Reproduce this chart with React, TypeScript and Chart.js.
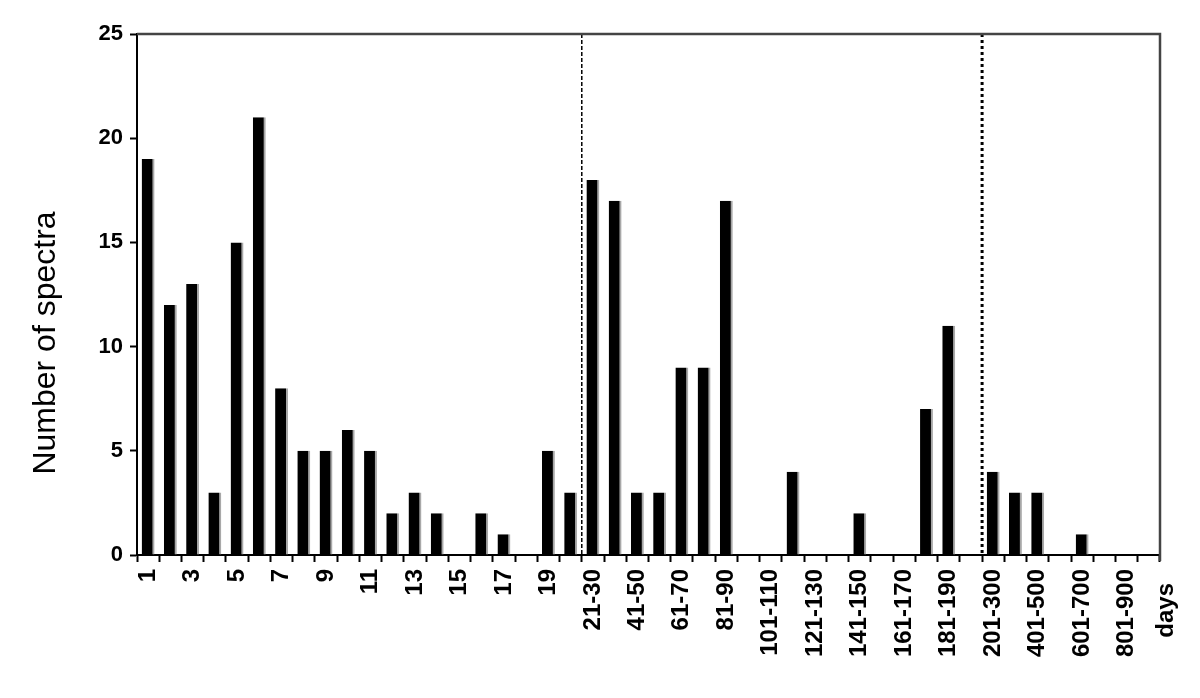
import React, { useEffect, useRef } from "react";
import { Chart, registerables } from "chart.js";

Chart.register(...registerables);

const dayLabels: string[] = [
  "1", "2", "3", "4", "5", "6", "7", "8", "9", "10",
  "11", "12", "13", "14", "15", "16", "17", "18", "19", "20",
];
const decadeLabels: string[] = [
  "21-30", "31-40", "41-50", "51-60", "61-70", "71-80", "81-90", "91-100", "101-110",
  "111-120", "121-130", "131-140", "141-150", "151-160", "161-170", "171-180", "181-190", "191-200",
];
const centuryLabels: string[] = [
  "201-300", "301-400", "401-500", "501-600", "601-700", "701-800", "801-900", "901-1000",
];

const dayValues: number[] = [19, 12, 13, 3, 15, 21, 8, 5, 5, 6, 5, 2, 3, 2, 0, 2, 1, 0, 5, 3];
const decadeValues: number[] = [18, 17, 3, 3, 9, 9, 17, 0, 0, 4, 0, 0, 2, 0, 0, 7, 11, 0];
const centuryValues: number[] = [4, 3, 3, 0, 1, 0, 0, 0];

const yTicks: number[] = [0, 5, 10, 15, 20, 25];
const yTitle = "Number of spectra";
const xUnit = "days";

const labels = [...dayLabels, ...decadeLabels, ...centuryLabels];
const values = [...dayValues, ...decadeValues, ...centuryValues];

const FONT = "'Liberation Sans', Arial, sans-serif";

const overlayPlugin = {
  id: "overlay",
  afterDraw(chart: any) {
    const ctx = chart.ctx;
    const area = chart.chartArea;
    const xs = chart.scales.x;
    const between = (i: number) => (xs.getPixelForValue(i) + xs.getPixelForValue(i + 1)) / 2;
    ctx.save();
    // separators
    const x1 = between(dayLabels.length - 1);
    ctx.strokeStyle = "#000";
    ctx.lineWidth = 1.5;
    ctx.setLineDash([4, 2]);
    ctx.beginPath();
    ctx.moveTo(x1, area.top);
    ctx.lineTo(x1, area.bottom);
    ctx.stroke();
    const x2 = between(dayLabels.length + decadeLabels.length - 1);
    ctx.lineWidth = 3;
    ctx.setLineDash([3, 3]);
    ctx.beginPath();
    ctx.moveTo(x2, area.top);
    ctx.lineTo(x2, area.bottom);
    ctx.stroke();
    ctx.setLineDash([]);
    // top and right border
    ctx.strokeStyle = "#444";
    ctx.lineWidth = 2.5;
    ctx.beginPath();
    ctx.moveTo(area.left, area.top);
    ctx.lineTo(area.right, area.top);
    ctx.lineTo(area.right, area.bottom + 6);
    ctx.stroke();
    // y title
    ctx.fillStyle = "#000";
    ctx.font = `32px ${FONT}`;
    ctx.textAlign = "center";
    ctx.textBaseline = "alphabetic";
    ctx.translate(55, 343);
    ctx.rotate(-Math.PI / 2);
    ctx.fillText(yTitle, 0, 0);
    ctx.restore();
    // days label
    ctx.save();
    ctx.fillStyle = "#000";
    ctx.font = `bold 24px ${FONT}`;
    ctx.textAlign = "right";
    ctx.textBaseline = "alphabetic";
    ctx.translate(1173, 583);
    ctx.rotate(-Math.PI / 2);
    ctx.fillText(xUnit, 0, 0);
    ctx.restore();
  },
};

export default function App() {
  const ref = useRef<HTMLCanvasElement | null>(null);
  useEffect(() => {
    if (!ref.current) return;
    const chart = new Chart(ref.current, {
      type: "bar",
      data: {
        labels,
        datasets: [
          {
            data: values,
            backgroundColor: "#000",
            borderColor: "#a8a8a8",
            borderWidth: { top: 0, right: 2, bottom: 0, left: 0 },
            borderSkipped: false,
            barPercentage: 0.58,
            categoryPercentage: 1,
          },
        ],
      },
      options: {
        responsive: false,
        animation: false,
        devicePixelRatio: 1,
        layout: { padding: { left: 0, top: 34, right: 40, bottom: 0 } },
        plugins: { legend: { display: false }, tooltip: { enabled: false } },
        scales: {
          x: {
            offset: true,
            grid: {
              offset: true,
              drawOnChartArea: false,
              drawTicks: true,
              tickLength: 7,
              tickWidth: 2,
              tickColor: "#000",
            },
            border: { color: "#000", width: 2 },
            ticks: {
              autoSkip: false,
              maxRotation: 90,
              minRotation: 90,
              padding: 7,
              color: "#000",
              font: { family: FONT, size: 24, weight: "bold" },
              callback: (_v: any, i: number) => (i % 2 === 0 ? labels[i] : ""),
            },
            afterFit: (scale: any) => {
              scale.height = 698 - 555;
            },
          },
          y: {
            min: yTicks[0],
            max: yTicks[yTicks.length - 1],
            grid: {
              drawOnChartArea: false,
              drawTicks: true,
              tickLength: 7,
              tickWidth: 2,
              tickColor: "#000",
            },
            border: { color: "#000", width: 2 },
            ticks: {
              stepSize: 5,
              padding: 7,
              color: "#000",
              font: { family: FONT, size: 22, weight: "bold" },
            },
            afterBuildTicks: (scale: any) => {
              scale.ticks = yTicks.map((v) => ({ value: v }));
            },
            afterFit: (scale: any) => {
              scale.width = 137;
            },
          },
        },
      },
      plugins: [overlayPlugin],
    });
    return () => chart.destroy();
  }, []);
  return (
    <div style={{ position: "fixed", left: 0, top: 0, width: 1200, height: 698, background: "#fff" }}>
      <canvas ref={ref} width={1200} height={698} />
    </div>
  );
}
